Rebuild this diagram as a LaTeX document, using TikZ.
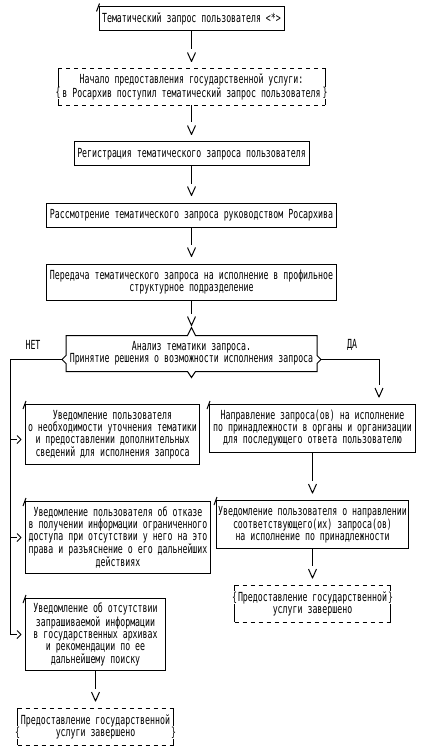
\documentclass[tikz,border=0pt]{standalone}
\usepackage{fontspec}
\newfontfamily\asciifont{DejaVu Sans Mono}[FakeStretch=0.66]
\usetikzlibrary{arrows.meta,positioning,calc}

% open V tip, set a little apart from the line
\newdimen\chevgap
\pgfdeclarearrow{
  name = Chevron,
  defaults = {length=9pt,width=8pt,inset=3pt},
  parameters = {\the\pgfarrowlength,\the\pgfarrowwidth,\the\pgfarrowinset},
  setup code = {
    \pgfarrowssettipend{0pt}
    \chevgap=\pgfarrowlength
    \advance\chevgap by \pgfarrowinset
    \pgfarrowssetlineend{-\chevgap}
    \pgfarrowssetbackend{-\chevgap}
    \pgfarrowssavethe\pgfarrowlength
    \pgfarrowssavethe\pgfarrowwidth
  },
  drawing code = {
    \pgfsetdash{}{0pt}
    \pgfsetroundjoin
    \pgfpathmoveto{\pgfqpoint{-\pgfarrowlength}{.5\pgfarrowwidth}}
    \pgfpathlineto{\pgfpointorigin}
    \pgfpathlineto{\pgfqpoint{-\pgfarrowlength}{-.5\pgfarrowwidth}}
    \pgfusepathqstroke
  }
}

\newcommand{\boxfont}{\asciifont\fontsize{12.5pt}{12pt}\selectfont}

\begin{document}
\begin{tikzpicture}[
    x=1pt,y=-1pt,
    node distance=36pt,
    line width=1pt,
    box/.style={draw,align=center,inner xsep=1pt,inner ysep=0pt,font=\boxfont},
    nlines/.style={minimum height=#1*12pt+12pt},
    term/.style={align=center,inner xsep=1pt,inner ysep=0pt,font=\boxfont},
    decision/.style={align=center,inner sep=0pt,font=\boxfont,minimum height=35pt},
    brace/.style={fill=white,inner sep=0.5pt,font=\boxfont},
    lbl/.style={inner sep=0pt,font=\boxfont},
    vflow/.style={-{Chevron[length=9pt,width=8pt,inset=3pt]},shorten >=7pt},
    hflow/.style={-{Chevron[length=4pt,width=8pt,inset=0pt]},shorten >=4pt},
    dashline/.style={dash pattern=on 4pt off 4pt}
  ]
    \useasboundingbox (0,0) rectangle (431,754);

    % main column
    \node[box,nlines=1,minimum width=185pt] (start) at (191.5,19) {Тематический запрос пользователя <*>};
    \node[term,nlines=2,minimum width=266pt,below=37pt of start] (begin) {Начало предоставления государственной услуги:\\в Росархив поступил тематический запрос пользователя};
    \node[box,nlines=1,minimum width=235pt,below=of begin] (register) {Регистрация тематического запроса пользователя};
    \node[box,nlines=1,minimum width=290pt,below=of register] (review) {Рассмотрение тематического запроса руководством Росархива};
    \node[box,nlines=2,minimum width=290pt,below=of review] (transfer) {Передача тематического запроса на исполнение в профильное\\структурное подразделение};
    \node[decision,minimum width=250pt,below=35pt of transfer] (analysis) {Анализ тематики запроса.\\Принятие решения о возможности исполнения запроса};

    % left column (НЕТ)
    \node[box,nlines=4,minimum width=174pt,anchor=north west] (notify) at (25,404) {Уведомление пользователя\\о необходимости уточнения тематики\\и предоставлении дополнительных\\сведений для исполнения запроса};
    \node[box,nlines=5,minimum width=185pt,below=36pt of notify.south west,anchor=north west] (refusal) {Уведомление пользователя об отказе\\в получении информации ограниченного\\доступа при отсутствии у него на это\\права и разъяснение о его дальнейших\\действиях};
    \node[box,nlines=5,minimum width=140pt,below=24pt of refusal.south west,anchor=north west] (absent) {Уведомление об отсутствии\\запрашиваемой информации\\в государственных архивах\\и рекомендации по ее\\дальнейшему поиску};
    \node[term,nlines=2,minimum width=155pt,below=37pt of absent] (doneleft) {Предоставление государственной\\услуги завершено};

    % right column (ДА)
    \node[box,nlines=3,minimum width=206pt,anchor=north west] (redirect) at (209,404) {Направление запроса(ов) на исполнение\\по принадлежности в органы и организации\\для последующего ответа пользователю};
    \node[box,nlines=3,minimum width=192pt,below=47pt of redirect] (notified) {Уведомление пользователя о направлении\\соответствующего(их) запроса(ов)\\на исполнение по принадлежности};
    \node[term,nlines=2,minimum width=155pt,below=of notified] (doneright) {Предоставление государственной\\услуги завершено};

    \node[lbl] (nolbl) at (33,345) {НЕТ};
    \node[lbl] (yeslbl) at (352,345) {ДА};

    % decision outline
    \coordinate (decL) at ($(analysis.west)+(0,6)$);
    \coordinate (decR) at ($(analysis.east)+(0,6)$);
    \coordinate (decLtip) at ($(decL)+(-4,0)$);
    \coordinate (decRtip) at ($(decR)+(4,0)$);
    \draw (analysis.north west) -- ($(analysis.north)+(-4,0)$) -- ++(4,-8) -- ++(4,8)
      -- (analysis.north east) -- ($(decR)+(0,-4)$) -- ++(4,4) -- ++(-4,4)
      -- (analysis.south east) -- ($(analysis.south)+(4,0)$) -- ++(-4,6) -- ++(-4,-6)
      -- (analysis.south west) -- ($(decL)+(0,4)$) -- ++(-4,-4) -- ++(4,-4) -- cycle;

    % terminator outlines
    \foreach \t in {begin,doneright,doneleft} {
      \draw[dashline] (\t.north west) -- (\t.north east) (\t.south west) -- (\t.south east);
      \draw (\t.north west) -- (\t.south west) (\t.north east) -- (\t.south east);
    }
    \node[brace] (beginbl) at ($(begin.west)+(0,6)$) {\{};
    \node[brace] (beginbr) at ($(begin.east)+(0,6)$) {\}};
    \node[brace] (donerbl) at ($(doneright.west)+(0,-6)$) {\{};
    \node[brace] (donerbr) at ($(doneright.east)+(0,-6)$) {\}};
    \node[brace] (donelbl) at ($(doneleft.west)+(0,6)$) {\{};
    \node[brace] (donelbr) at ($(doneleft.east)+(0,6)$) {\}};

    % corner ticks
    \foreach \n in {start,notify,redirect,refusal,notified,absent}
      \draw ($(\n.north west)+(-2,5)$) -- ($(\n.north west)+(1,-3)$);

    % connectors
    \draw[vflow] (start) -- (begin);
    \draw[vflow] (begin) -- (register);
    \draw[vflow] (register) -- (review);
    \draw[vflow] (review) -- (transfer);
    \draw[vflow,shorten >=10pt] (transfer) -- (analysis);

    \coordinate (noline) at (10,0);
    \coordinate (yesline) at (379,0);
    \draw[hflow] (decLtip) -| (noline |- absent.west) -- (absent.west);
    \draw[hflow] (noline |- refusal.west) -- (refusal.west);
    \draw[hflow] ($(noline |- notify.west)+(0,5)$) -- ($(notify.west)+(0,5)$);
    \draw[vflow] (decRtip) -| (yesline |- redirect.north);

    \draw[vflow] (redirect) -- (notified);
    \draw[vflow] (notified) -- (doneright);
    \draw[vflow] (absent) -- (doneleft);
  \end{tikzpicture}
\end{document}
